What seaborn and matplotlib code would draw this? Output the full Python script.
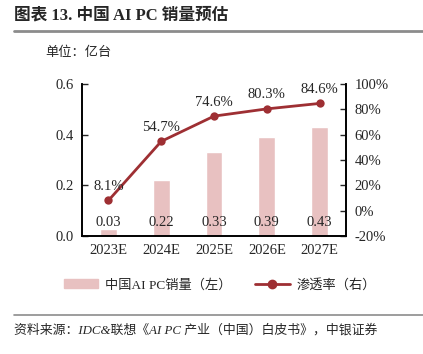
import matplotlib
matplotlib.use('Agg')
import matplotlib.pyplot as plt
import seaborn as sns
import pandas as pd
from matplotlib.lines import Line2D
from matplotlib.patches import Patch

# data
years = ['2023E', '2024E', '2025E', '2026E', '2027E']
sales = [0.03, 0.22, 0.33, 0.39, 0.43]          # 亿台
penetration = [8.1, 54.7, 74.6, 80.3, 84.6]     # %

sns.set_style('white')
plt.rcParams['font.family'] = ['Liberation Serif', 'Noto Sans CJK SC']
plt.rcParams['axes.unicode_minus'] = False

bar_color = '#e8c1c1'
line_color = '#9e2f33'

df = pd.DataFrame({'year': years, 'sales': sales, 'pen': penetration})

fig = plt.figure(figsize=(4.23, 3.54), dpi=100)
ax = fig.add_axes([0.194, 0.333, 0.624, 0.43])

sns.barplot(data=df, x='year', y='sales', color=bar_color, width=0.32,
            saturation=1, ax=ax)
ax.set_ylim(0, 0.6)
ax.set_yticks([0, 0.2, 0.4, 0.6])
ax.set_yticklabels(['0.0', '0.2', '0.4', '0.6'])
ax.set_xlim(-0.5, 4.5)
ax.set_xlabel('')
ax.set_ylabel('')
for i, v in enumerate(sales):
    ax.text(i, 0.055, f'{v:.2f}', ha='center', va='center', fontsize=10.5)

ax2 = ax.twinx()
sns.lineplot(x=list(range(len(years))), y=penetration, color=line_color,
             marker='o', markersize=6, markeredgewidth=0, linewidth=2, ax=ax2)
ax2.set_ylim(-20, 100)
ax2.set_yticks(range(-20, 101, 20))
ax2.set_yticklabels([f'{t}%' for t in range(-20, 101, 20)])
for i, v in enumerate(penetration):
    ax2.text(i, v + 6, f'{v:.1f}%', ha='center', va='bottom', fontsize=10.5)

# boundaries as x ticks
ax.set_xticks([i - 0.5 for i in range(6)], minor=True)
ax.tick_params(axis='x', which='minor', direction='in', length=3, width=1)
ax.tick_params(axis='x', which='major', length=0, labelsize=10.5, pad=6)
ax.tick_params(axis='y', direction='in', length=4, width=1, labelsize=10.5, pad=6)
ax2.tick_params(axis='y', direction='in', length=4, width=1, labelsize=10.5, pad=6)

for a in (ax, ax2):
    a.spines['top'].set_visible(False)
    for s in ('left', 'right', 'bottom'):
        a.spines[s].set_color('black')
        a.spines[s].set_linewidth(1.2)

# legend
handles = [Patch(color=bar_color, label='中国AI PC销量（左）'),
           Line2D([0], [0], color=line_color, marker='o', markersize=6,
                  linewidth=2, label='渗透率（右）')]
fig.legend(handles=handles, loc='center', bbox_to_anchor=(0.52, 0.195),
           ncol=2, frameon=False, fontsize=9.5, handlelength=2.6,
           columnspacing=1.8, handletextpad=0.5)

# title and notes
fig.text(0.033, 0.957, '图表 13. 中国 AI PC 销量预估', fontsize=12,
         fontweight='bold', ha='left', va='center')
fig.add_artist(Line2D([0.033, 1.0], [0.913, 0.913], color='#8c8c8c', linewidth=2))
fig.text(0.107, 0.85, '单位：亿台', fontsize=9.5, ha='left', va='center')
fig.add_artist(Line2D([0.033, 1.0], [0.11, 0.11], color='#8c8c8c', linewidth=1.2))
fig.text(0.033, 0.068, '资料来源：IDC&联想《AI PC 产业（中国）白皮书》，中银证券',
         fontsize=9.3, style='italic', ha='left', va='center')

fig.savefig('out.png', dpi=100)
